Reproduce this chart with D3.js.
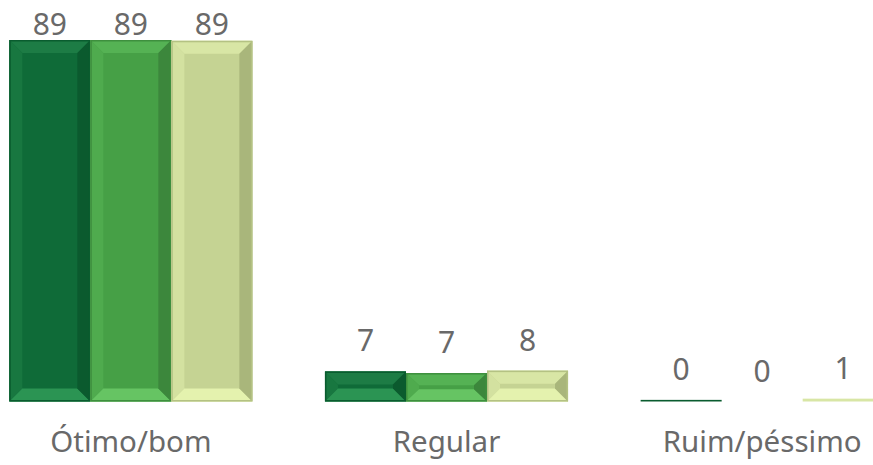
<!DOCTYPE html>
<html>
<head>
<meta charset="utf-8">
<script src="https://cdn.jsdelivr.net/npm/d3@7"></script>
<style>
  html, body { margin: 0; padding: 0; background: #fff; }
  svg { display: block; }
</style>
</head>
<body>
<div id="chart"></div>
<script>
// categories and series (labels shown rounded)
const categories = ['Ótimo/bom', 'Regular', 'Ruim/péssimo'];
const seriesNames = ['s1', 's2', 's3'];
const series1 = [89, 7.4, 0.4];
const series2 = [89, 7.0, 0];
const series3 = [88.8, 7.6, 0.7];
const allSeries = [series1, series2, series3];

// face / bevel shades per series
const palette = [
  { face: '#0f6b38', top: '#1d7c45', left: '#187740', bottom: '#2b9453', right: '#0b5a2e', edge: '#0a5c2f' },
  { face: '#46a046', top: '#55b254', left: '#4fab4e', bottom: '#66c463', right: '#3c873c', edge: '#3e8f3e' },
  { face: '#c5d393', top: '#d8e6a5', left: '#d3e1a0', bottom: '#e4f2ae', right: '#a9b67b', edge: '#b4c283' }
];

const width = 873, height = 465;
const baseline = 401.5;

const svg = d3.select('#chart').append('svg')
  .attr('width', width)
  .attr('height', height);

const x0 = d3.scaleBand()
  .domain(d3.range(categories.length))
  .range([-27, 920])
  .paddingInner(0.23)
  .paddingOuter(0.115);

const x1 = d3.scaleBand()
  .domain(d3.range(seriesNames.length))
  .range([0, x0.bandwidth()]);

const y = d3.scaleLinear()
  .domain([0, 89])
  .range([baseline, 40]);

const font = '"Noto Sans", "Open Sans", sans-serif';
const textColor = '#696969';

// bars
allSeries.forEach((vals, si) => {
  const c = palette[si];
  const g = svg.append('g');
  vals.forEach((v, ci) => {
    if (v <= 0) return;
    const bx = x0(ci) + x1(si);
    const bw = x1.bandwidth();
    const by = y(v);
    const bh = y(0) - y(v);
    const bar = g.append('g');
    bar.append('rect')
      .attr('x', bx).attr('y', by)
      .attr('width', bw).attr('height', bh)
      .attr('fill', c.face);
    if (bh < 6) {
      bar.select('rect').attr('fill', si === 0 ? c.edge : c.top);
      return;
    }
    const bv = Math.min(13, bh / 2 - 2);
    const bvx = Math.min(13, bw / 2);
    const x2 = bx + bw, y2 = by + bh;
    const poly = (pts, fill) => bar.append('polygon')
      .attr('points', pts.map(p => p.join(',')).join(' '))
      .attr('fill', fill);
    poly([[bx, by], [x2, by], [x2 - bvx, by + bv], [bx + bvx, by + bv]], c.top);
    poly([[bx, by], [bx + bvx, by + bv], [bx + bvx, y2 - bv], [bx, y2]], c.left);
    poly([[bx, y2], [bx + bvx, y2 - bv], [x2 - bvx, y2 - bv], [x2, y2]], c.bottom);
    poly([[x2, by], [x2, y2], [x2 - bvx, y2 - bv], [x2 - bvx, by + bv]], c.right);
    bar.append('rect')
      .attr('x', bx + 0.75).attr('y', by + 0.75)
      .attr('width', bw - 1.5).attr('height', bh - 1.5)
      .attr('fill', 'none')
      .attr('stroke', c.edge)
      .attr('stroke-width', 1.5);
  });
});

// value labels
allSeries.forEach((vals, si) => {
  svg.append('g').selectAll('text')
    .data(vals)
    .join('text')
    .attr('x', (d, ci) => x0(ci) + x1(si) + x1.bandwidth() / 2)
    .attr('y', d => Math.max(35, y(d) - 20))
    .attr('text-anchor', 'middle')
    .attr('font-family', font)
    .attr('font-size', 30)
    .attr('fill', textColor)
    .text(d => d3.format('.0f')(d));
});

// category axis labels
svg.append('g').selectAll('text')
  .data(categories)
  .join('text')
  .attr('x', (d, i) => x0(i) + x0.bandwidth() / 2)
  .attr('y', 452)
  .attr('text-anchor', 'middle')
  .attr('font-family', font)
  .attr('font-size', 29.5)
  .attr('fill', textColor)
  .text(d => d);
</script>
</body>
</html>
